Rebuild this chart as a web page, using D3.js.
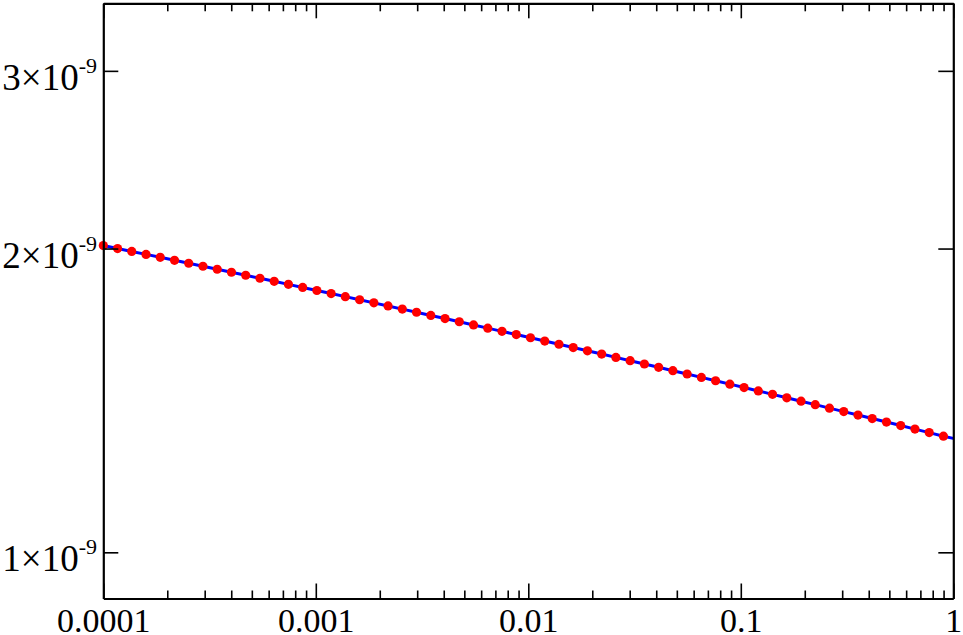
<!DOCTYPE html>
<html>
<head>
<meta charset="utf-8">
<script src="https://cdn.jsdelivr.net/npm/d3@7"></script>
<style>
html,body{margin:0;padding:0;background:#fff;}
svg{display:block;}
</style>
</head>
<body>
<svg id="chart" width="963" height="635"></svg>
<script>
// ---- data ----
const pointX = [1.000e-4,1.167e-4,1.361e-4,1.589e-4,1.853e-4,2.163e-4,2.523e-4,2.944e-4,3.436e-4,4.009e-4,
  4.678e-4,5.459e-4,6.370e-4,7.432e-4,8.675e-4,1.012e-3,1.181e-3,1.377e-3,1.608e-3,1.876e-3,
  2.188e-3,2.553e-3,2.979e-3,3.477e-3,4.057e-3,4.734e-3,5.524e-3,6.446e-3,7.520e-3,8.778e-3,
  1.024e-2,1.195e-2,1.394e-2,1.627e-2,1.898e-2,2.214e-2,2.584e-2,3.015e-2,3.518e-2,4.105e-2,
  4.790e-2,5.590e-2,6.523e-2,7.610e-2,8.882e-2,0.1036,0.1209,0.1410,0.1646,0.1921,
  0.2241,0.2614,0.3051,0.3560,0.4154,0.4847,0.5656,0.6600,0.7700,0.8988];
const pointY = [2.0137,2.0001,1.9868,1.9735,1.9603,1.9471,1.9340,1.9208,1.9078,1.8948,
  1.8818,1.8689,1.8560,1.8431,1.8303,1.8175,1.8048,1.7921,1.7795,1.7669,
  1.7544,1.7419,1.7294,1.7170,1.7047,1.6924,1.6801,1.6679,1.6557,1.6436,
  1.6316,1.6195,1.6076,1.5957,1.5838,1.5720,1.5602,1.5485,1.5368,1.5252,
  1.5136,1.5021,1.4906,1.4792,1.4678,1.4565,1.4452,1.4340,1.4228,1.4117,
  1.4007,1.3896,1.3787,1.3678,1.3569,1.3461,1.3354,1.3247,1.3141,1.3035].map(v => v * 1e-9);
const lineX = pointX.concat([1.0]);
const lineY = pointY.concat([1.297e-9]);

const xMajor = [1e-4, 1e-3, 1e-2, 1e-1, 1];
const xMajorLabels = ["0.0001", "0.001", "0.01", "0.1", "1"];
const yMajor = [1e-9, 2e-9, 3e-9];
const yMantissa = ["1", "2", "3"];
const yExponent = "-9";

// ---- layout ----
(function () {
const W = 963, H = 635;
const pLeft = 103.3, pRight = 953.3, pTop = 3.3, pBottom = 598.5;

const svg = d3.select("#chart");
const x = d3.scaleLog().domain([1e-4, 1]).range([pLeft, pRight]);
const y = d3.scaleLog().domain([0.9e-9, 3.5e-9]).range([pBottom, pTop]);

const xMinor = [];
for (let d = -4; d < 0; d++) for (let k = 2; k <= 9; k++) xMinor.push(k * Math.pow(10, d));

function styleAxis(g) {
  g.selectAll("path").attr("stroke", "#000").attr("stroke-width", 2.2);
  g.selectAll("line").attr("stroke", "#000").attr("stroke-width", 1.6);
}

// line
svg.append("path")
  .datum(lineX.map((d, i) => [d, lineY[i]]))
  .attr("fill", "none")
  .attr("stroke", "#0000ff")
  .attr("stroke-width", 3)
  .attr("d", d3.line().x(d => x(d[0])).y(d => y(d[1])));

// points
svg.append("g").selectAll("circle")
  .data(pointX.map((d, i) => [d, pointY[i]]))
  .join("circle")
  .attr("cx", d => x(d[0]))
  .attr("cy", d => y(d[1]))
  .attr("r", 4.6)
  .attr("fill", "#ff0000");

// bottom axis
const gb = svg.append("g").attr("transform", `translate(0,${pBottom})`)
  .call(d3.axisBottom(x).tickValues(xMajor).tickSizeInner(-15).tickSizeOuter(0)
    .tickFormat((d, i) => xMajorLabels[i]));
gb.call(styleAxis);
gb.selectAll("text").attr("y", 33).attr("dy", null)
  .attr("font-family", "'Liberation Serif', 'Times New Roman', serif")
  .attr("font-size", 34).attr("fill", "#000");
svg.append("g").attr("transform", `translate(0,${pBottom})`)
  .call(d3.axisBottom(x).tickValues(xMinor).tickSize(-8).tickFormat(""))
  .call(g => g.select(".domain").remove()).call(styleAxis);

// top axis
svg.append("g").attr("transform", `translate(0,${pTop})`)
  .call(d3.axisTop(x).tickValues(xMajor).tickSizeInner(-15).tickSizeOuter(0).tickFormat(""))
  .call(styleAxis);
svg.append("g").attr("transform", `translate(0,${pTop})`)
  .call(d3.axisTop(x).tickValues(xMinor).tickSize(-8).tickFormat(""))
  .call(g => g.select(".domain").remove()).call(styleAxis);

// left axis
svg.append("g").attr("transform", `translate(${pLeft},0)`)
  .call(d3.axisLeft(y).tickValues(yMajor).tickSizeInner(-15).tickSizeOuter(0).tickFormat(""))
  .call(styleAxis);
// right axis
svg.append("g").attr("transform", `translate(${pRight},0)`)
  .call(d3.axisRight(y).tickValues(yMajor).tickSizeInner(-15).tickSizeOuter(0).tickFormat(""))
  .call(styleAxis);

// y labels
const yl = svg.append("g")
  .attr("font-family", "'Liberation Serif', 'Times New Roman', serif")
  .attr("fill", "#000");
yMajor.forEach((v, i) => {
  const t = yl.append("text")
    .attr("x", 97)
    .attr("y", y(v) + 19)
    .attr("text-anchor", "end")
    .attr("font-size", 37);
  t.append("tspan").text(yMantissa[i] + "\u00d710");
  t.append("tspan").attr("dy", -17).attr("font-size", 22).text(yExponent);
});
})();
</script>
</body>
</html>
